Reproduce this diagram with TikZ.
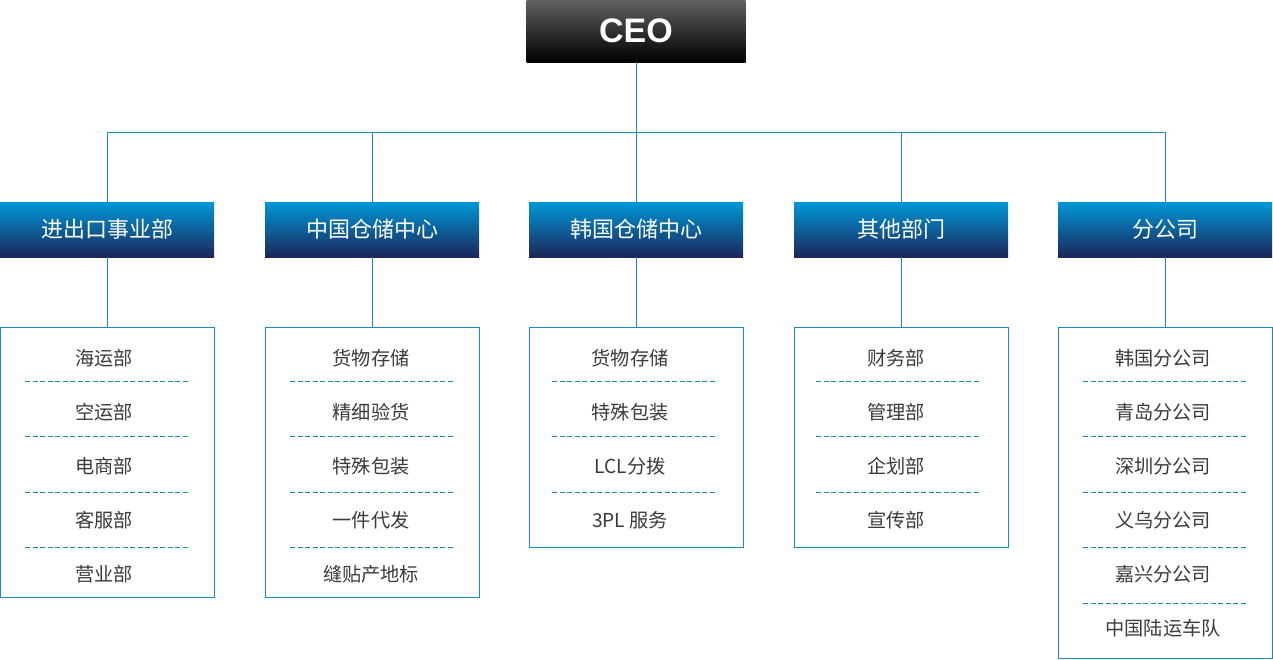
\documentclass[tikz,border=0pt]{standalone}
\usepackage{fontspec}
\setmainfont{Noto Sans CJK SC}
\newfontfamily\ceofont{Liberation Sans}
\usetikzlibrary{positioning}
\definecolor{lineblue}{HTML}{1A8AC6}
\definecolor{headtop}{HTML}{0098D8}
\definecolor{headbot}{HTML}{1B2659}
\definecolor{itemgray}{HTML}{3A3A3A}
\tikzset{
  ceobox/.style={minimum width=219pt,minimum height=62pt,inner sep=0pt,
    top color=black!62,bottom color=black,text=white,
    font=\ceofont\bfseries\fontsize{34}{36}\selectfont},
  headbox/.style={minimum width=214pt,minimum height=55pt,inner sep=0pt,
    top color=headtop,bottom color=headbot,text=white,
    font=\fontsize{22}{24}\selectfont},
  listbox/.style={draw=lineblue,line width=1pt,minimum width=214pt,inner sep=0pt},
  item/.style={text=itemgray,inner sep=0pt,font=\fontsize{19.2}{21}\selectfont},
  sep/.style={lineblue,line width=1pt,dash pattern=on 5pt off 2.5pt},
  link/.style={lineblue,line width=1pt}
}

\begin{document}
\begin{tikzpicture}[x=1pt,y=-1pt]
      \useasboundingbox (0,0) rectangle (1273,659);

      % top
      \node[ceobox] (ceo) at (636,31) {CEO};
      \coordinate (bus) at (636,132);

      % departments
      \node[headbox] (h1) at (107,229.5) {进出口事业部};
      \node[headbox] (h2) at (372,229.5) {中国仓储中心};
      \node[headbox] (h3) at (636,229.5) {韩国仓储中心};
      \node[headbox] (h4) at (901,229.5) {其他部门};
      \node[headbox] (h5) at (1165,229.5) {分公司};

      % lists
      \node[listbox,minimum height=270pt] (b1) at (107,462) {};
      \node[listbox,minimum height=270pt] (b2) at (372,462) {};
      \node[listbox,minimum height=220pt] (b3) at (636,437) {};
      \node[listbox,minimum height=220pt] (b4) at (901,437) {};
      \node[listbox,minimum height=331pt] (b5) at (1165,492.5) {};

      \draw[link] (ceo.south) -- (bus);
      \foreach \i in {1,...,5}{
        \draw[link] (h\i.north) |- (bus);
        \draw[link] (h\i.south) -- (b\i.north);
      }

      \foreach \t [count=\k] in {海运部,空运部,电商部,客服部,营业部}
        \node[item] (a\k) at (104,304+54.1*\k) {\t};
      \foreach \t [count=\k] in {货物存储,精细验货,特殊包装,一件代发,缝贴产地标}
        \node[item] (c\k) at (371,304+54.1*\k) {\t};
      \foreach \t [count=\k] in {货物存储,特殊包装,LCL分拨,3PL 服务}
        \node[item] (d\k) at (630,304+54.1*\k) {\t};
      \foreach \t [count=\k] in {财务部,管理部,企划部,宣传部}
        \node[item] (e\k) at (896,304+54.1*\k) {\t};
      \foreach \t [count=\k] in {韩国分公司,青岛分公司,深圳分公司,义乌分公司,嘉兴分公司,中国陆运车队}
        \node[item] (f\k) at (1163,304+54.1*\k) {\t};

      % dashed separators
      \foreach \x/\n in {107/4,372/4,634/3,898/3,1165/5}
        \foreach \k in {1,...,\n}
          \draw[sep] (\x-82,381+55.5*\k-55.5) -- (\x+82,381+55.5*\k-55.5);
    \end{tikzpicture}
\end{document}
